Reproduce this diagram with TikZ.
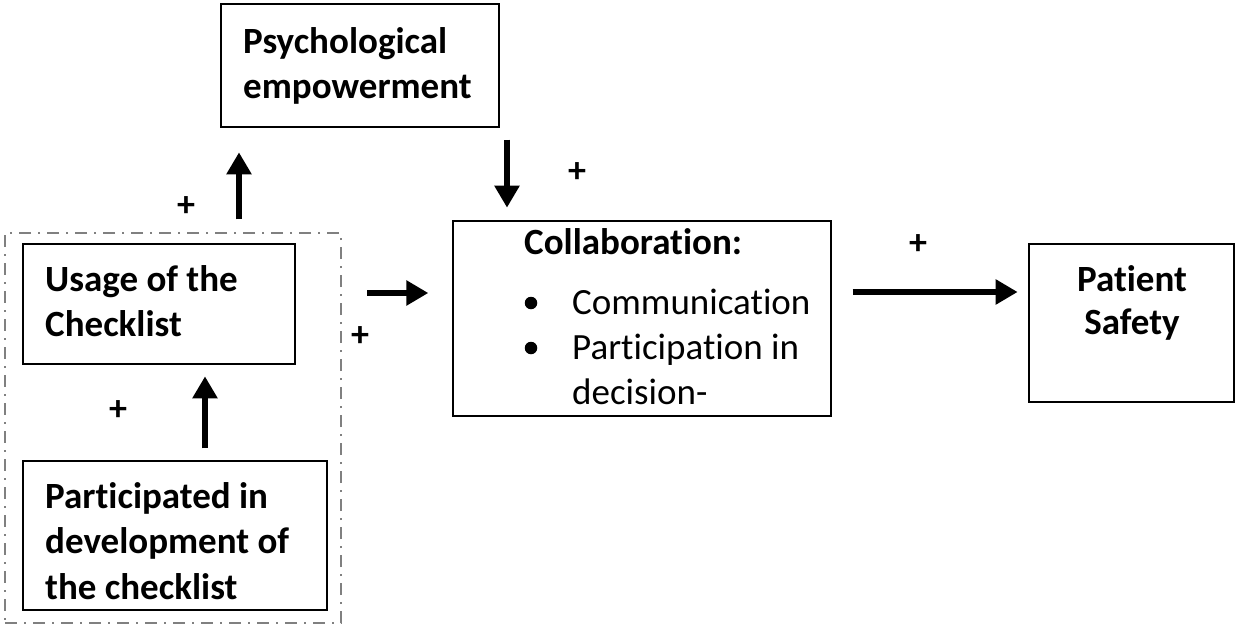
\documentclass[tikz,border=0pt]{standalone}
\usepackage{fontspec}
\setmainfont[Ligatures=NoCommon]{Carlito}
\usetikzlibrary{arrows.meta}
\begin{document}
\begin{tikzpicture}[x=1pt,y=-1pt,
  box/.style={draw,line width=1.3pt,minimum width=#1,inner sep=0pt},
  txt/.style={anchor=base west,inner sep=0pt,font=\fontsize{37}{45}\selectfont\bfseries,align=left},
  ctxt/.style={anchor=base,inner sep=0pt,font=\fontsize{37}{45}\selectfont\bfseries,align=center},
  rtxt/.style={anchor=base west,inner sep=0pt,font=\fontsize{37}{45}\selectfont},
  bul/.style={circle,fill,inner sep=0pt,minimum size=12.5pt},
  plus/.style={inner sep=0pt,font=\fontsize{36}{36}\selectfont\bfseries},
  arr/.style={line width=5.5pt,-{Triangle[length=22pt,width=24pt]}},
  grp/.style={draw=black!50,line width=1.3pt,dash pattern=on 12pt off 7pt on 2pt off 7pt}
]
\useasboundingbox (0,0) rectangle (1235,624);
% dashed group
\node[grp,minimum width=336pt,minimum height=390pt,inner sep=0pt] (group) at (173,428) {};
% boxes
\node[box=278pt,minimum height=123pt] (psy) at (360,65.5) {};
\node[box=272pt,minimum height=120pt] (usage) at (159,304) {};
\node[box=304pt,minimum height=149pt] (part) at (175,535.5) {};
\node[box=378pt,minimum height=195pt] (collab) at (642,318.5) {};
\node[box=205pt,minimum height=158pt] (patient) at (1131.5,323) {};
% texts
\node[txt] (psyT1) at (243,53) {Psychological};
\node[txt] (psyT2) at (243,98) {empowerment};
\node[txt] (usT1) at (45,291) {Usage of the};
\node[txt] (usT2) at (45,336) {Checklist};
\node[txt] (paT1) at (45,508) {Participated in};
\node[txt] (paT2) at (45,553) {development of};
\node[txt] (paT3) at (45,599) {the checklist};
\node[txt] (coT) at (524,254) {Collaboration:};
\node[bul] (b1) at (531,303) {};
\node[bul] (b2) at (531,348) {};
\node[rtxt] (coT1) at (572,314) {Communication};
\node[rtxt] (coT2) at (572,359) {Participation in};
\node[rtxt] (coT3) at (572,404) {decision-};
\node[ctxt] (ptT1) at (1132,291) {Patient};
\node[ctxt] (ptT2) at (1132,334) {Safety};
% arrows
\draw[arr] (usage.north) ++(80,-24) -- ++(0,-67);
\draw[arr] (psy.south) ++(147,12) -- ++(0,68);
\draw[arr] (collab.west) ++(-85,-25.5) -- ++(61,0);
\draw[arr] (collab.east) ++(21,-26.5) -- ++(165,0);
\draw[arr] (part.north) ++(30,-12) -- ++(0,-72);
% plus labels
\node[plus] (p1) at (186,207) {+};
\node[plus] (p2) at (577,173) {+};
\node[plus] (p3) at (360,337) {+};
\node[plus] (p4) at (918,245) {+};
\node[plus] (p5) at (118,411) {+};
\end{tikzpicture}
\end{document}
